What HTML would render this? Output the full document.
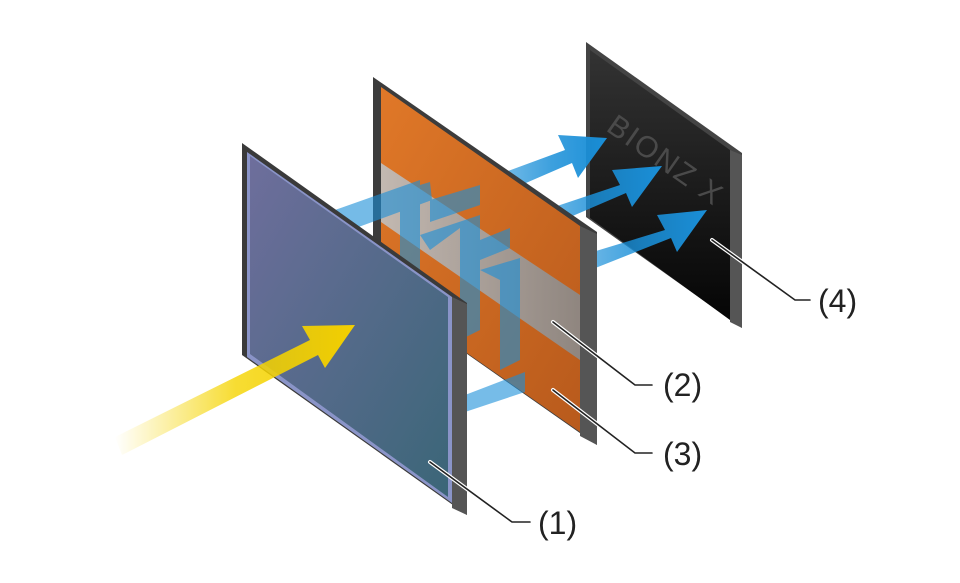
<!DOCTYPE html>
<html><head><meta charset="utf-8"><style>
html,body{margin:0;padding:0;background:#fff;width:960px;height:583px;overflow:hidden}
svg{display:block}
text{font-family:"Liberation Sans","DejaVu Sans",sans-serif;font-size:32px;fill:#222}
</style></head><body>
<svg width="960" height="583" viewBox="0 0 960 583">
<defs>
<linearGradient id="bl" x1="0" y1="0" x2="1" y2="0">
<stop offset="0" stop-color="#1a8fd8" stop-opacity="0.45"/>
<stop offset="0.6" stop-color="#1a8fd8" stop-opacity="0.85"/>
<stop offset="1" stop-color="#1a8fd8" stop-opacity="1"/></linearGradient>
<linearGradient id="yl" x1="0" y1="0" x2="1" y2="0">
<stop offset="0" stop-color="#f5d400" stop-opacity="0"/>
<stop offset="0.5" stop-color="#f5d400" stop-opacity="0.8"/>
<stop offset="1" stop-color="#f3cf00"/></linearGradient>
<linearGradient id="gl" x1="0" y1="0" x2="1" y2="1">
<stop offset="0" stop-color="#6e6e9c"/><stop offset="1" stop-color="#3b6678"/></linearGradient>
<linearGradient id="or" x1="0" y1="0" x2="1" y2="1">
<stop offset="0" stop-color="#e07828"/><stop offset="1" stop-color="#b85a1c"/></linearGradient>
<linearGradient id="gr" x1="0" y1="0" x2="1" y2="0">
<stop offset="0" stop-color="#c0c0c0"/><stop offset="1" stop-color="#8a8a8a"/></linearGradient>
<linearGradient id="bk" x1="0" y1="0" x2="0" y2="1">
<stop offset="0" stop-color="#333"/><stop offset="1" stop-color="#050505"/></linearGradient>
</defs>
<!-- panel 4 -->
<polygon points="586,42 742,153 742,328 586,217" fill="#444"/>
<polygon points="590,50 730,150 730,320 590,218" fill="url(#bk)"/>
<polygon points="730,150 742,155 742,328 730,322" fill="#555"/>
<text x="605" y="130" transform="rotate(35 605 130)" style="font-size:30px;fill:#4a4a4a;letter-spacing:2px">BIONZ X</text>
<!-- blue arrows far -->
<g fill="url(#bl)">
<polygon points="470,185 565,150 558,135 607,138 578,178 572,163 475,205"/>
<polygon points="500,225 620,185 612,170 662,166 632,207 626,193 505,245"/>
<polygon points="540,268 665,230 657,215 707,210 677,252 671,238 545,288"/>
</g>
<!-- panel 2 -->
<polygon points="373,77 597,232 597,445 373,288" fill="#3c3c3c"/>
<polygon points="381,87 580,226 580,432 381,293" fill="url(#or)"/>
<polygon points="381,163 580,295 580,360 381,222" fill="url(#gr)" opacity="0.9"/>
<polygon points="580,226 597,234 597,445 580,436" fill="#555"/>
<!-- blue paths over panel 2 -->
<g fill="#1a8fd8" opacity="0.6">
<polygon points="335,210 420,180 420,320 400,330 400,200 345,222"/>
<polygon points="335,210 430,182 432,200 345,232"/>
<polygon points="420,235 480,215 480,330 460,340 460,228 430,250"/>
<polygon points="480,270 520,258 520,360 500,370 500,280"/>
<polygon points="465,395 525,372 525,392 465,412"/>
<polygon points="430,200 480,185 480,205 430,222"/>
<polygon points="480,240 510,228 510,248 480,260"/>
</g>
<!-- panel 1 -->
<polygon points="242,143 467,303 467,515 242,355" fill="#3a3a3a"/>
<polygon points="247,152 452,297 452,503 247,357" fill="#8a94c8"/>
<polygon points="250,156 448,297 448,497 250,354" fill="url(#gl)"/>
<polygon points="452,297 467,304 467,515 452,508" fill="#555"/>
<!-- yellow arrow -->
<polygon points="115,437 310,340 302,326 355,325 325,368 318,355 122,455" fill="url(#yl)"/>
<!-- leaders -->
<g fill="none" stroke-linecap="round">
<g stroke="#fff" stroke-width="4">
<polyline points="430,462 512,522 530,522"/>
<polyline points="553,322 635,385 652,385"/>
<polyline points="553,390 635,453 652,453"/>
<polyline points="712,240 795,300 810,300"/></g>
<g stroke="#222" stroke-width="1.6">
<polyline points="430,462 512,522 530,522"/>
<polyline points="553,322 635,385 652,385"/>
<polyline points="553,390 635,453 652,453"/>
<polyline points="712,240 795,300 810,300"/></g>
</g>
<text x="538" y="534">(1)</text>
<text x="663" y="396">(2)</text>
<text x="663" y="465">(3)</text>
<text x="818" y="312">(4)</text>
</svg>
</body></html>
